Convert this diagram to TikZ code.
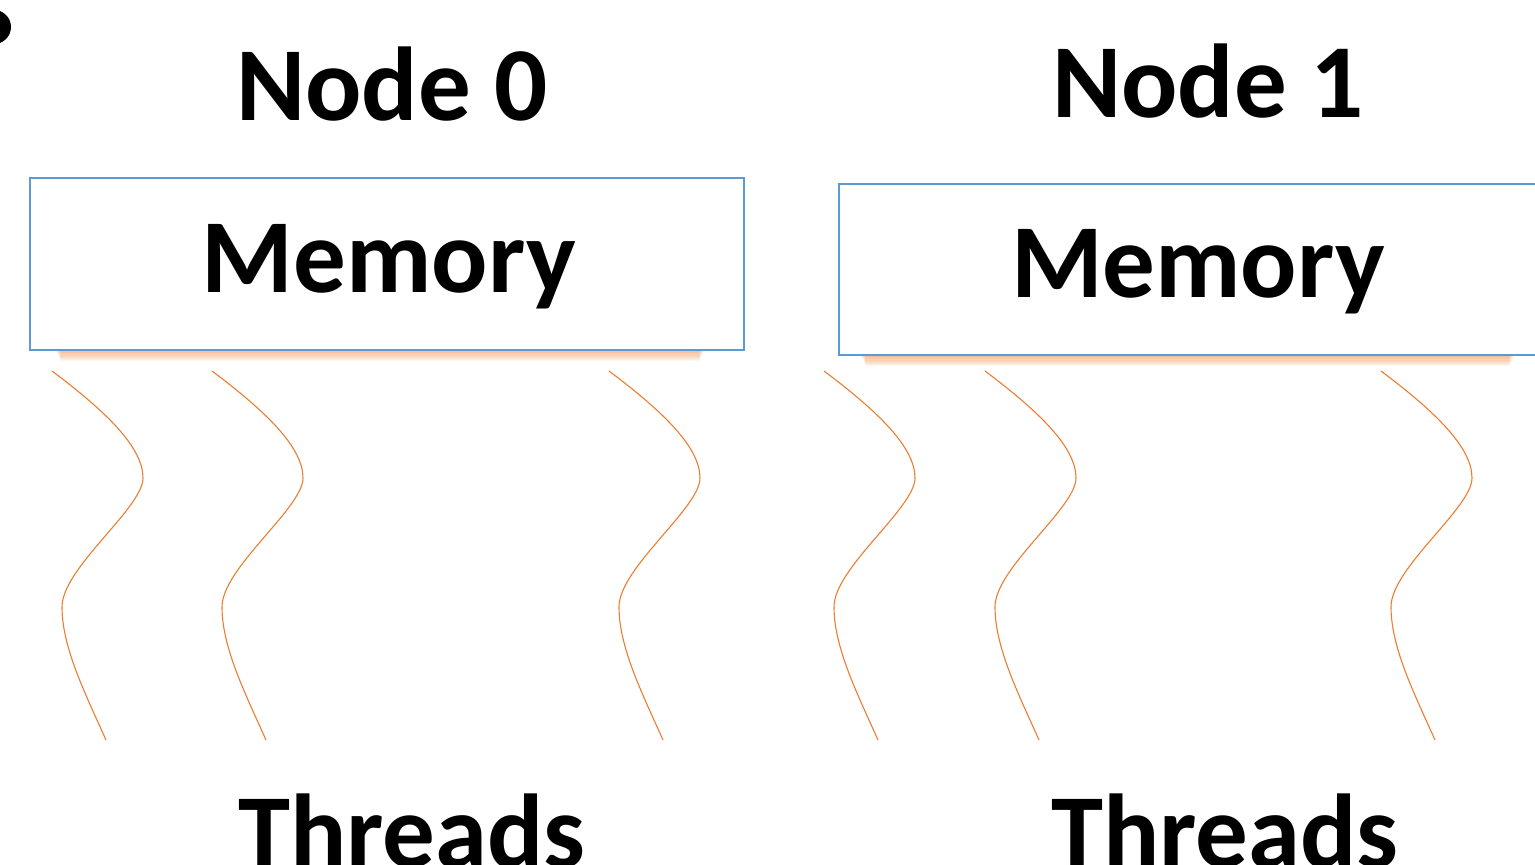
\documentclass[tikz,border=0pt]{standalone}
\usepackage{fontspec}
\setmainfont{Carlito}
\definecolor{boxblue}{HTML}{5B9BD5}
\definecolor{throrange}{HTML}{ED7D31}
\tikzset{
  bigtext/.style={font=\fontsize{105}{105}\selectfont\bfseries, inner sep=0pt, anchor=base},
  membox/.style={draw=boxblue, line width=1.3pt, fill=white},
  thread/.style={draw=throrange, line width=1.1pt},
}
\begin{document}
\begin{tikzpicture}[x=1pt,y=-1pt]
\useasboundingbox (0,0) rectangle (1535,865);
\clip (0,0) rectangle (1535,865);
% partial mark at top-left
\fill[black] (-6,27) circle (17);
% titles
\node[bigtext] (n0) at (392,120) {Node 0};
\node[bigtext] (n1) at (1208,117) {Node 1};
% orange glow shadows
\foreach \i in {1,...,10}{
  \fill[throrange, opacity=0.07] (55+\i*0.6,350) rectangle (705-\i*0.6,350+\i*1.1);
  \fill[throrange, opacity=0.07] (860+\i*0.6,355) rectangle (1515-\i*0.6,355+\i*1.1);
}
% memory boxes
\draw[membox] (30,178) rectangle (744,350);
\draw[membox] (839,184) rectangle (1545,355);
\node[bigtext] (m0) at (389,292) {Memory};
\node[bigtext] (m1) at (1198,297) {Memory};
% threads
\foreach \dx in {0,160,557,772,933,1329}{
  \draw[thread, shift={(\dx,0)}] (52,371) .. controls (108,413) and (143,448) .. (143,478)
     .. controls (143,508) and (62,568) .. (62,607)
     .. controls (62,648) and (86,695) .. (106,740);
}
\node[bigtext] (t0) at (412,867) {Threads};
\node[bigtext] (t1) at (1225,867) {Threads};
\end{tikzpicture}
\end{document}
